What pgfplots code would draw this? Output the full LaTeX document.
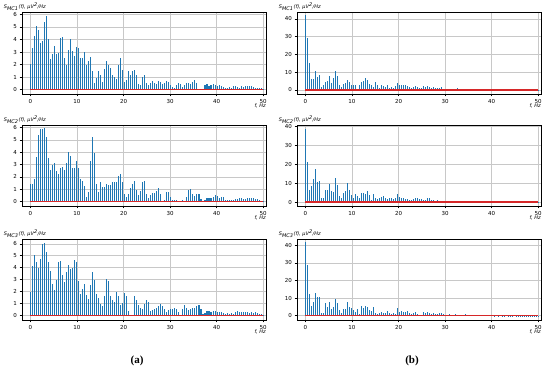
\documentclass[border=0pt]{standalone}
\usepackage{fontspec}
\setmainfont{DejaVu Sans}
\newfontfamily\serifbf{Liberation Serif}
\usepackage{pgfplots}
\pgfplotsset{compat=1.18}
\usepackage{pgfplotstable}
\definecolor{stemblue}{HTML}{1F77B4}
\definecolor{basered}{HTML}{D62728}
\definecolor{gridc}{HTML}{C8C8C8}

\pgfplotstableread[row sep=\\]{s\\2.05\\3.3\\4.3\\5.05\\4.75\\3.75\\3.85\\5.4\\5.9\\4.05\\2.45\\2.85\\3.5\\2.85\\2.9\\4.1\\4.2\\2.5\\2.0\\3.15\\4.05\\3.05\\2.65\\3.4\\3.35\\2.55\\2.55\\3.0\\1.95\\2.25\\2.6\\1.5\\0.55\\0.95\\1.5\\1.2\\0.6\\1.65\\2.25\\2.0\\1.7\\1.2\\1.0\\0.85\\1.95\\2.5\\1.55\\0.6\\0.75\\1.45\\1.2\\1.45\\1.6\\1.2\\0.45\\0.4\\1.0\\1.2\\0.55\\0.35\\0.5\\0.65\\0.55\\0.45\\0.7\\0.6\\0.45\\0.55\\0.65\\0.6\\0.35\\0.2\\0.15\\0.35\\0.5\\0.45\\0.2\\0.35\\0.5\\0.5\\0.45\\0.6\\0.8\\0.55\\0.05\\0.05\\0.05\\0.4\\0.45\\0.3\\0.35\\0.45\\0.4\\0.3\\0.35\\0.3\\0.2\\0.15\\0.15\\0.2\\0.15\\0.25\\0.3\\0.2\\0.15\\0.3\\0.2\\0.25\\0.3\\0.3\\0.25\\0.2\\0.15\\0.15\\0.1\\0.1\\0.05\\}\dAa

\pgfplotstableread[row sep=\\]{s\\42\\29\\15\\6\\6\\10.5\\7.5\\8.5\\1.5\\2.5\\4.5\\5\\8\\4\\6.5\\10.5\\8\\3\\1.5\\3.5\\4\\5.5\\4.5\\3\\2.5\\3\\0.5\\2.5\\4.5\\5\\6.5\\5.5\\3.5\\2.5\\1.5\\4.5\\2.5\\1\\3\\2\\1.5\\3\\1\\1.5\\1\\2\\4\\3\\3\\2.5\\2.5\\2\\1.5\\1\\1.5\\2\\1.5\\1\\1\\2\\1.5\\2\\1.5\\1\\1.5\\1\\1.2\\0.8\\1.5\\0.6\\0.3\\0.5\\0.3\\0.2\\0.4\\0.2\\0.8\\0.3\\0.2\\0.3\\0.5\\0.1\\0.3\\0.2\\0.1\\0.15\\0.1\\0.2\\0.1\\0.15\\0.1\\0.05\\0.1\\0.15\\0.1\\0.05\\0.1\\0.05\\0.1\\0.05\\0.1\\0.05\\0.05\\0.1\\0.05\\0.05\\0.1\\0.05\\0.05\\0.05\\0.05\\0.05\\0.05\\0.05\\0.05\\0.05\\0.05\\}\dBa

\pgfplotstableread[row sep=\\]{s\\1.45\\1.4\\1.85\\3.65\\5.4\\5.9\\5.85\\5.95\\5.2\\3.5\\2.6\\2.95\\3.1\\2.5\\2.2\\2.75\\2.8\\2.55\\3.1\\4.05\\3.7\\2.7\\2.75\\3.25\\2.75\\1.8\\1.65\\1.25\\0.4\\0.75\\3.3\\5.2\\3.95\\1.45\\0.75\\1.6\\1.2\\1.15\\1.4\\1.35\\1.35\\1.55\\1.6\\1.6\\2.05\\2.25\\1.6\\0.6\\0.35\\0.6\\1.1\\1.45\\1.7\\0.95\\0.5\\0.85\\1.6\\1.65\\0.65\\0.3\\0.5\\0.7\\0.7\\0.9\\1.1\\0.6\\0.05\\0.15\\0.75\\0.8\\0.35\\0.1\\0.15\\0.1\\0.05\\0.05\\0.1\\0.05\\0.4\\0.95\\1.0\\0.6\\0.45\\0.6\\0.65\\0.25\\0.05\\0.15\\0.3\\0.3\\0.3\\0.35\\0.5\\0.45\\0.3\\0.35\\0.4\\0.15\\0.1\\0.1\\0.1\\0.15\\0.2\\0.25\\0.3\\0.3\\0.25\\0.25\\0.3\\0.3\\0.3\\0.3\\0.25\\0.2\\0.1\\0.05\\0.05\\}\dAb

\pgfplotstableread[row sep=\\]{s\\39\\21.5\\6.5\\8.5\\12.5\\17.5\\10.5\\11\\2.5\\2.5\\6.5\\6.5\\9.5\\6\\5.5\\13\\9\\3.5\\2\\5\\6\\10\\6.5\\4\\2\\4.5\\3.5\\2\\5\\5\\4.5\\6\\4\\1\\4.5\\2.5\\1.5\\2\\3\\3.5\\2.5\\1.5\\2.5\\2.5\\1.5\\2\\4.5\\3\\2.5\\2.5\\1.5\\1.5\\1\\1\\1.5\\2\\2\\1.5\\1.5\\1\\1\\2\\2\\1\\1\\0.8\\1\\0.5\\0.8\\0.6\\0.4\\0.3\\0.5\\0.3\\0.6\\0.4\\0.8\\0.3\\0.5\\0.3\\0.4\\0.5\\0.2\\0.3\\0.3\\0.2\\0.4\\0.2\\0.2\\0.3\\0.1\\0.2\\0.1\\0.2\\0.15\\0.1\\0.2\\0.1\\0.1\\0.05\\0.1\\0.05\\0.1\\0.05\\0.05\\0.1\\0.05\\0.05\\0.05\\0.05\\0.05\\0.05\\0.05\\0.05\\0.05\\0.05\\0.05\\}\dBb

\pgfplotstableread[row sep=\\]{s\\1.95\\4.1\\5.05\\4.5\\4.0\\4.75\\6.0\\6.1\\5.35\\4.5\\3.7\\2.65\\2.1\\3.0\\4.45\\4.55\\3.35\\2.8\\3.6\\4.2\\3.9\\3.95\\4.6\\4.45\\2.85\\1.8\\2.25\\2.6\\1.7\\1.4\\2.55\\3.6\\3.0\\1.8\\1.45\\0.95\\0.8\\1.6\\3.05\\2.85\\1.6\\1.3\\1.1\\1.95\\1.6\\0.85\\1.05\\1.9\\1.6\\0.35\\0.05\\0.05\\1.65\\1.3\\0.9\\0.65\\0.55\\0.95\\1.25\\1.15\\0.4\\0.45\\0.5\\0.6\\0.75\\0.95\\0.8\\0.5\\0.3\\0.45\\0.55\\0.55\\0.6\\0.5\\0.3\\0.05\\0.5\\0.85\\0.65\\0.45\\0.55\\0.65\\0.6\\0.75\\0.85\\0.5\\0.1\\0.2\\0.35\\0.35\\0.3\\0.4\\0.35\\0.3\\0.3\\0.25\\0.2\\0.15\\0.2\\0.15\\0.2\\0.15\\0.25\\0.35\\0.3\\0.25\\0.3\\0.25\\0.3\\0.2\\0.25\\0.2\\0.25\\0.2\\0.1\\0.1\\0.05\\}\dAc

\pgfplotstableread[row sep=\\]{s\\42\\29\\12.5\\5.5\\8\\13\\10.5\\10.5\\1.5\\1.5\\7\\5\\7.5\\3.5\\5\\9.5\\7\\3\\1.5\\3.5\\4\\7.5\\5\\4.5\\3\\2\\3.5\\1\\5.5\\4.5\\5.5\\5\\3\\2.5\\5\\1.5\\1\\1.5\\2\\1.5\\1.5\\2.5\\1.5\\1\\1.5\\1\\4.5\\2\\2.5\\2\\2\\2.5\\1.5\\1\\1.5\\2\\1\\0.5\\0.5\\2\\1.5\\1.8\\1.5\\1\\1.5\\1\\0.8\\1.2\\1.5\\0.8\\0.3\\0.5\\0.8\\0.6\\0.5\\0.7\\0.4\\0.3\\0.5\\0.3\\0.8\\0.3\\0.2\\0.1\\0.3\\0.2\\0.15\\0.3\\0.2\\0.1\\0.1\\0.2\\0.1\\0.1\\0.05\\0.1\\0.05\\0.1\\0.05\\0.05\\0.1\\0.05\\0.05\\0.05\\0.1\\0.05\\0.05\\0.05\\0.05\\0.05\\0.05\\0.05\\0.05\\0.05\\0.05\\0.05\\0.05\\}\dBc

\pgfplotsset{
  stemax/.style={
    scale only axis, width=244pt,
    xmin=-1.8, xmax=50.6,
    xtick={0,10,...,50},
    grid=major, major grid style={draw=gridc, line width=0.5pt},
    axis line style={draw=black, line width=0.5pt},
    tick align=outside, major tick length=2.5pt,
    tick style={draw=black, line width=0.5pt},
    xtick pos=bottom, ytick pos=left,
    ticklabel style={font=\fontsize{5.5}{6}\selectfont},
    /pgf/number format/assume math mode=true,
    xticklabel style={yshift=1pt},
    yticklabel style={xshift=1pt},
    every axis y label/.style={at={(axis description cs:-0.075,1)}, anchor=south west, yshift=1.5pt, font=\fontsize{5}{6}\selectfont\itshape, inner sep=0pt},
    every axis x label/.style={at={(axis description cs:1,0)}, anchor=north east, yshift=-10pt, font=\fontsize{5}{6}\selectfont\itshape, inner sep=0pt},
    xlabel={f, Hz},
  },
  stemA/.style={ytick={0,1,...,6}},
  stemB/.style={ytick={0,10,...,40}},
}

\begin{document}
\begin{tikzpicture}
\path[use as bounding box] (0,0) rectangle (550pt,375pt);

% row 1
\begin{axis}[stemax, stemA, at={(22pt,281pt)}, anchor=south west, height=82pt,
  ymin=-0.35, ymax=6.2, ylabel={S\textsubscript{MC1}(f), μV\textsuperscript{2}/Hz}]
\addplot[ycomb, draw=stemblue, line width=1.05pt, mark=none] table[x expr=\coordindex*0.431034, y=s]{\dAa};
\addplot[draw=basered, line width=1.5pt, mark=none] coordinates {(0,0) (50,0)};
\end{axis}
\begin{axis}[stemax, stemB, at={(297pt,281pt)}, anchor=south west, height=82pt,
  ymin=-2.3, ymax=43.8, ylabel={S\textsubscript{MC1}(f), μV\textsuperscript{2}/Hz}]
\addplot[ycomb, draw=stemblue, line width=1.05pt, mark=none] table[x expr=\coordindex*0.431034, y=s]{\dBa};
\addplot[draw=basered, line width=1.5pt, mark=none] coordinates {(0,0) (50,0)};
\end{axis}

% row 2
\begin{axis}[stemax, stemA, at={(22pt,169pt)}, anchor=south west, height=81pt,
  ymin=-0.35, ymax=6.2, ylabel={S\textsubscript{MC2}(f), μV\textsuperscript{2}/Hz}]
\addplot[ycomb, draw=stemblue, line width=1.05pt, mark=none] table[x expr=\coordindex*0.431034, y=s]{\dAb};
\addplot[draw=basered, line width=1.5pt, mark=none] coordinates {(0,0) (50,0)};
\end{axis}
\begin{axis}[stemax, stemB, at={(297pt,169pt)}, anchor=south west, height=81pt,
  ymin=-2, ymax=40.9, ylabel={S\textsubscript{MC2}(f), μV\textsuperscript{2}/Hz}]
\addplot[ycomb, draw=stemblue, line width=1.05pt, mark=none] table[x expr=\coordindex*0.431034, y=s]{\dBb};
\addplot[draw=basered, line width=1.5pt, mark=none] coordinates {(0,0) (50,0)};
\end{axis}

% row 3
\begin{axis}[stemax, stemA, at={(22pt,55pt)}, anchor=south west, height=81pt,
  ymin=-0.39, ymax=6.4, ylabel={S\textsubscript{MC3}(f), μV\textsuperscript{2}/Hz}]
\addplot[ycomb, draw=stemblue, line width=1.05pt, mark=none] table[x expr=\coordindex*0.431034, y=s]{\dAc};
\addplot[draw=basered, line width=1.5pt, mark=none] coordinates {(0,0) (50,0)};
\end{axis}
\begin{axis}[stemax, stemB, at={(297pt,55pt)}, anchor=south west, height=81pt,
  ymin=-2.5, ymax=43.6, ylabel={S\textsubscript{MC3}(f), μV\textsuperscript{2}/Hz}]
\addplot[ycomb, draw=stemblue, line width=1.05pt, mark=none] table[x expr=\coordindex*0.431034, y=s]{\dBc};
\addplot[draw=basered, line width=1.5pt, mark=none] coordinates {(0,0) (50,0)};
\end{axis}

\node[font=\serifbf\bfseries\fontsize{11}{12}\selectfont] at (137pt,14pt) {(a)};
\node[font=\serifbf\bfseries\fontsize{11}{12}\selectfont] at (412pt,14pt) {(b)};
\end{tikzpicture}
\end{document}
